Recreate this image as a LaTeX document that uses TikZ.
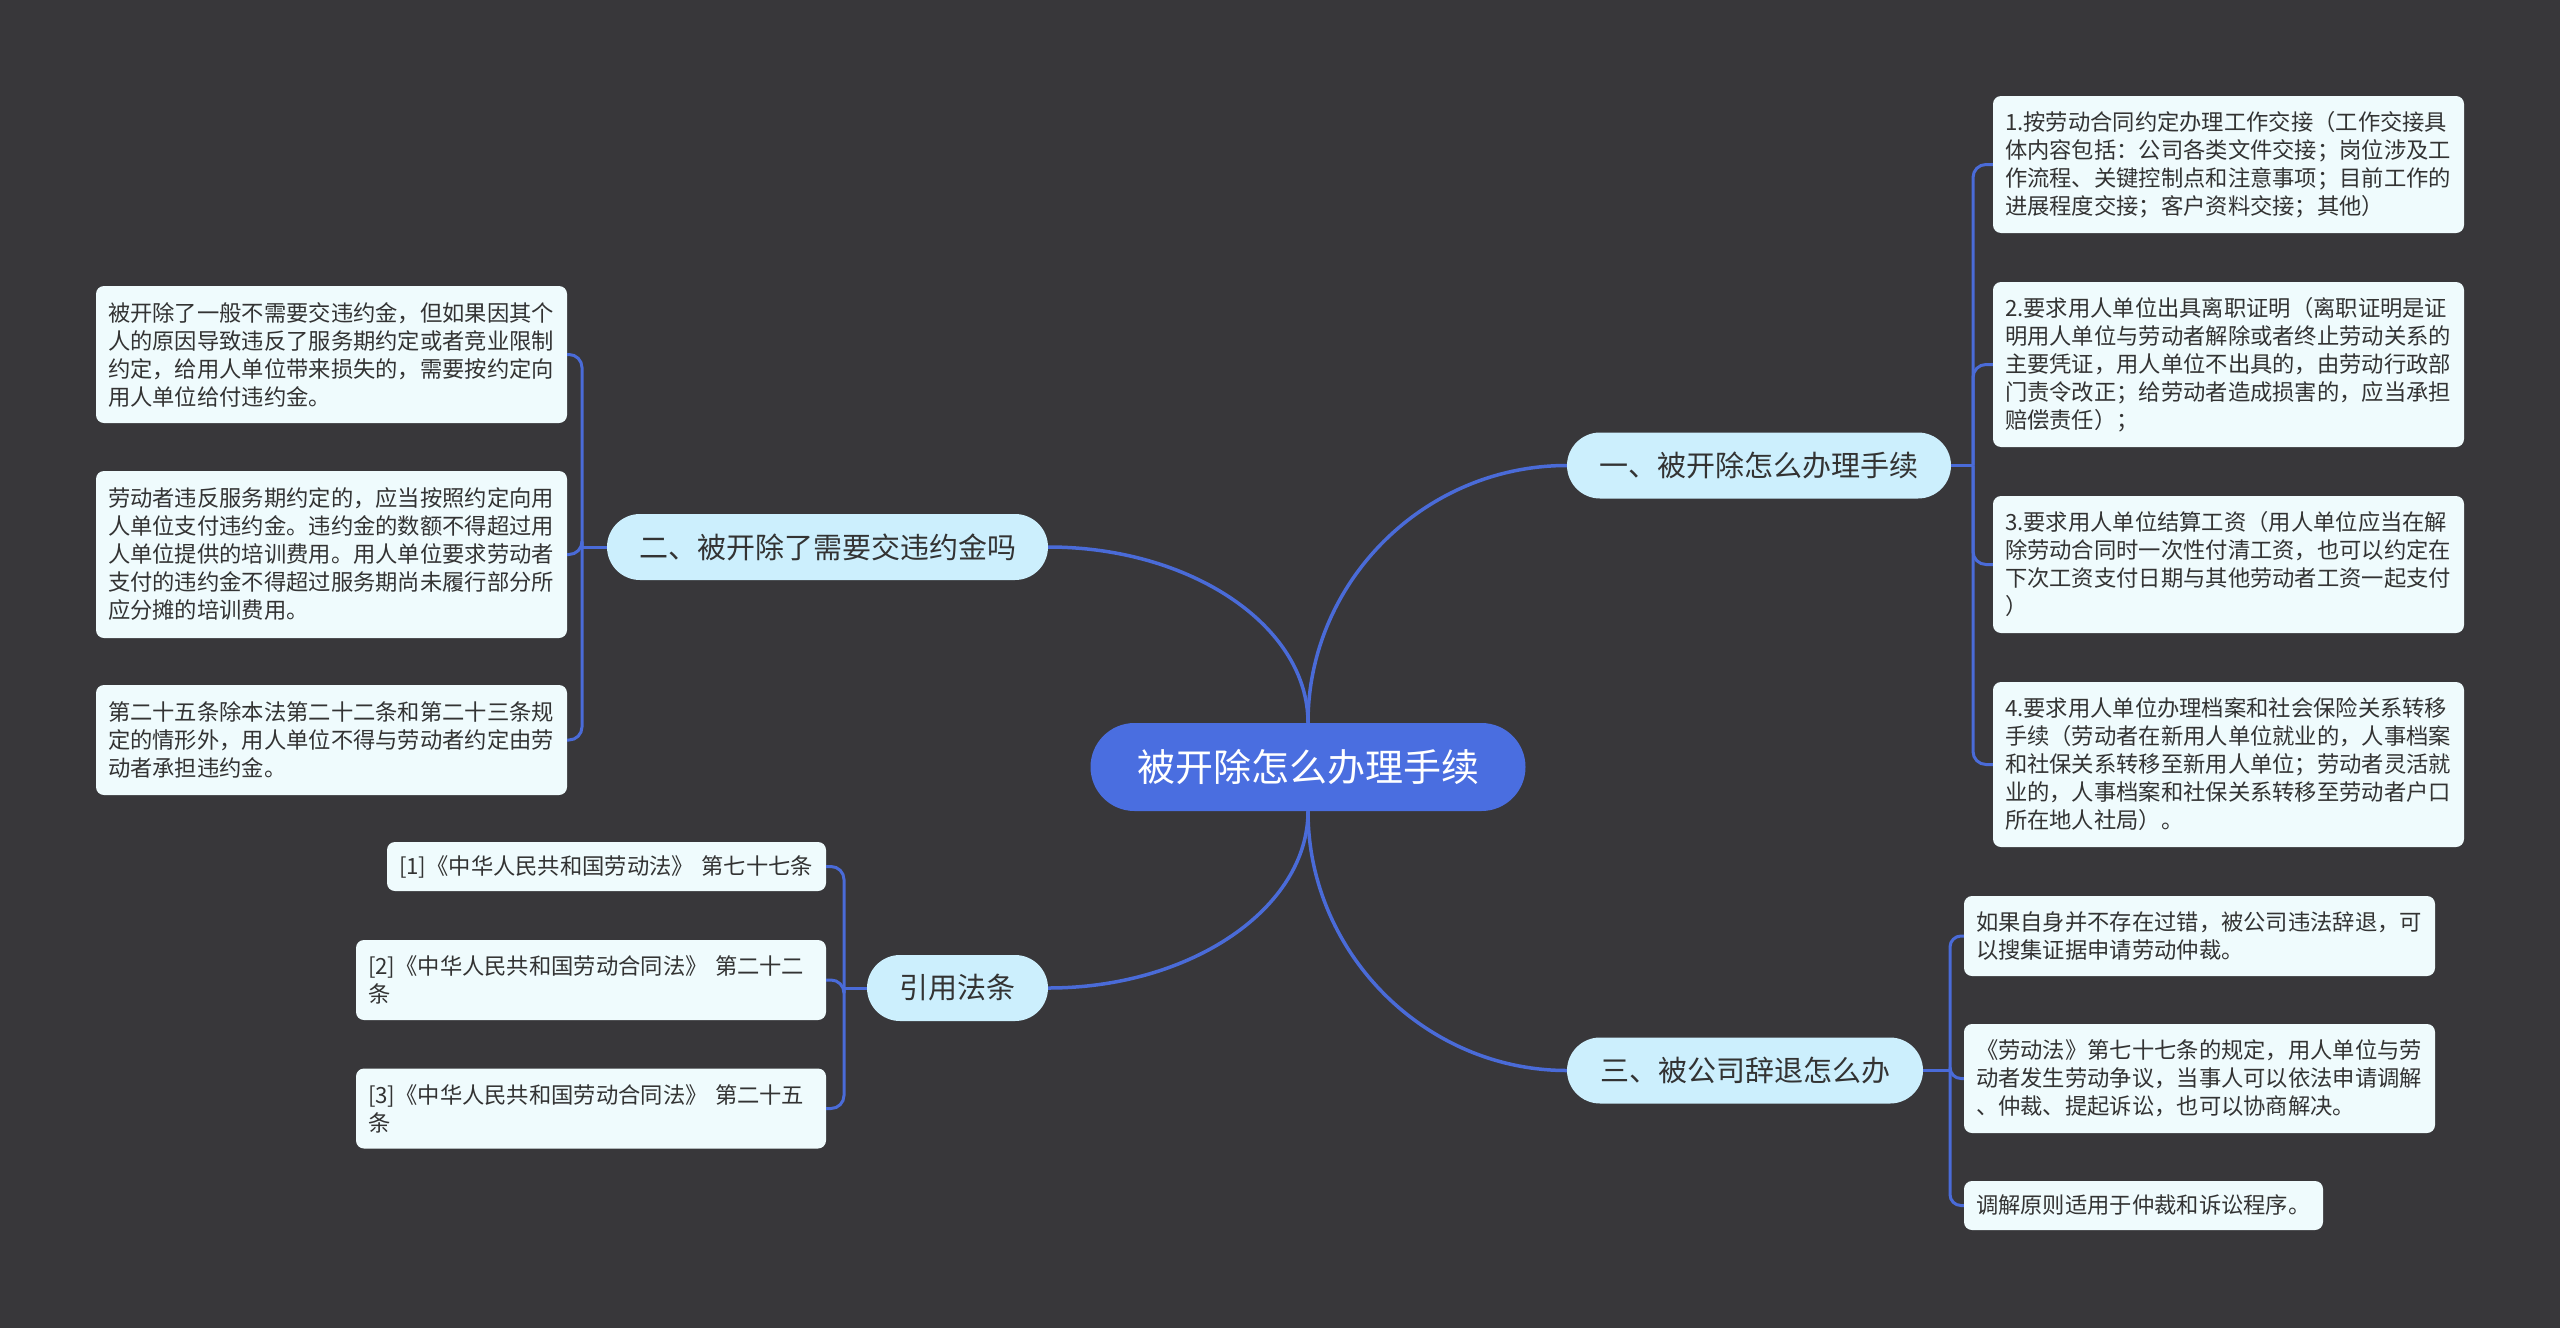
\documentclass[tikz,border=0pt]{standalone}
\usepackage{fontspec}
\newfontfamily\cjk{Noto Sans CJK SC}
\definecolor{bgc}{HTML}{38373A}
\definecolor{linec}{HTML}{4A6BD8}
\definecolor{rootc}{HTML}{4A6EE0}
\definecolor{branchc}{HTML}{CCEFFD}
\definecolor{leafc}{HTML}{EFFBFD}
\definecolor{txtc}{HTML}{333333}
\tikzset{
  rootbox/.style={fill=rootc, text=white, rounded corners=44pt, minimum width=435pt, minimum height=88pt, inner sep=0pt, font=\cjk\fontsize{38}{44}\selectfont},
  branchbox/.style={fill=branchc, text=txtc, rounded corners=33pt, minimum height=66pt, inner sep=0pt, font=\cjk\fontsize{29}{34}\selectfont},
  leafbox/.style={fill=leafc, text=txtc, rounded corners=8pt, inner xsep=12pt, inner ysep=0pt, align=left, font=\cjk\fontsize{22.3}{28}\selectfont},
  mainconn/.style={draw=linec, line width=3.5pt},
  leafconn/.style={draw=linec, line width=3pt, rounded corners=13pt},
}
\newcommand{\leaf}[6]{% name, cx, cy, w, h, text
  \node[leafbox, text width=#4pt-24pt, minimum height=#5pt] (#1) at (#2,#3) {#6};}
\begin{document}
\begin{tikzpicture}[x=1pt,y=-1pt]
\fill[bgc] (0,0) rectangle (2560,1328);
\useasboundingbox (0,0) rectangle (2560,1328);

% root and branches
\node[rootbox] (root) at (1308,767) {被开除怎么办理手续};
\node[branchbox, minimum width=384pt] (b1) at (1759,465.5) {一、被开除怎么办理手续};
\node[branchbox, minimum width=441pt] (b2) at (827.5,547) {二、被开除了需要交违约金吗};
\node[branchbox, minimum width=181pt] (b4) at (957.5,988) {引用法条};
\node[branchbox, minimum width=356pt] (b3) at (1745,1070.5) {三、被公司辞退怎么办};

% leaves of b1
\leaf{r1}{2228.5}{164.5}{471}{137}{1.按劳动合同约定办理工作交接（工作交接具\\体内容包括：公司各类文件交接；岗位涉及工\\作流程、关键控制点和注意事项；目前工作的\\进展程度交接；客户资料交接；其他）}
\leaf{r2}{2228.5}{364.5}{471}{165}{2.要求用人单位出具离职证明（离职证明是证\\明用人单位与劳动者解除或者终止劳动关系的\\主要凭证，用人单位不出具的，由劳动行政部\\门责令改正；给劳动者造成损害的，应当承担\\赔偿责任）；}
\leaf{r3}{2228.5}{564.5}{471}{137}{3.要求用人单位结算工资（用人单位应当在解\\除劳动合同时一次性付清工资，也可以约定在\\下次工资支付日期与其他劳动者工资一起支付\\）}
\leaf{r4}{2228.5}{764.5}{471}{165}{4.要求用人单位办理档案和社会保险关系转移\\手续（劳动者在新用人单位就业的，人事档案\\和社保关系转移至新用人单位；劳动者灵活就\\业的，人事档案和社保关系转移至劳动者户口\\所在地人社局）。}

% leaves of b3
\leaf{s1}{2199.5}{936}{471}{80}{如果自身并不存在过错，被公司违法辞退，可\\以搜集证据申请劳动仲裁。}
\leaf{s2}{2199.5}{1078.5}{471}{109}{《劳动法》第七十七条的规定，用人单位与劳\\动者发生劳动争议，当事人可以依法申请调解\\、仲裁、提起诉讼，也可以协商解决。}
\leaf{s3}{2143.5}{1205.5}{359}{49}{调解原则适用于仲裁和诉讼程序。}

% leaves of b2
\leaf{l1}{331.5}{354.5}{471}{137}{被开除了一般不需要交违约金，但如果因其个\\人的原因导致违反了服务期约定或者竞业限制\\约定，给用人单位带来损失的，需要按约定向\\用人单位给付违约金。}
\leaf{l2}{331.5}{554.5}{471}{167}{劳动者违反服务期约定的，应当按照约定向用\\人单位支付违约金。违约金的数额不得超过用\\人单位提供的培训费用。用人单位要求劳动者\\支付的违约金不得超过服务期尚未履行部分所\\应分摊的培训费用。}
\leaf{l3}{331.5}{740}{471}{110}{第二十五条除本法第二十二条和第二十三条规\\定的情形外，用人单位不得与劳动者约定由劳\\动者承担违约金。}

% leaves of b4
\leaf{f1}{606.5}{866.5}{439}{49}{[1]《中华人民共和国劳动法》 第七十七条}
\leaf{f2}{591}{980}{470}{80}{[2]《中华人民共和国劳动合同法》 第二十二\\条}
\leaf{f3}{591}{1108.5}{470}{80}{[3]《中华人民共和国劳动合同法》 第二十五\\条}

% main connectors
\draw[mainconn] (root.north) .. controls (1308,581) and (1425,465.5) .. (b1.west);
\draw[mainconn] (root.north) .. controls (1308,626) and (1191,547) .. (b2.east);
\draw[mainconn] (root.south) .. controls (1308,953) and (1425,1070.5) .. (b3.west);
\draw[mainconn] (root.south) .. controls (1308,908) and (1191,988) .. (b4.east);

% leaf connectors
\coordinate (k1) at (1973,465.5);
\coordinate (k2) at (582,547);
\coordinate (k3) at (1950,1070.5);
\coordinate (k4) at (844,988);
\draw[leafconn] (b1.east) -- (k1);
\draw[leafconn] (b2.west) -- (k2);
\draw[leafconn] (b3.east) -- (k3);
\draw[leafconn] (b4.west) -- (k4);
\foreach \n in {r1,r2,r3,r4} \draw[leafconn] (k1) |- (\n.west);
\foreach \n in {s1,s2,s3} \draw[leafconn, rounded corners=11pt] (k3) |- (\n.west);
\foreach \n in {l1,l2,l3} \draw[leafconn] (k2) |- (\n.east);
\foreach \n in {f1,f2,f3} \draw[leafconn] (k4) |- (\n.east);
\end{tikzpicture}
\end{document}
